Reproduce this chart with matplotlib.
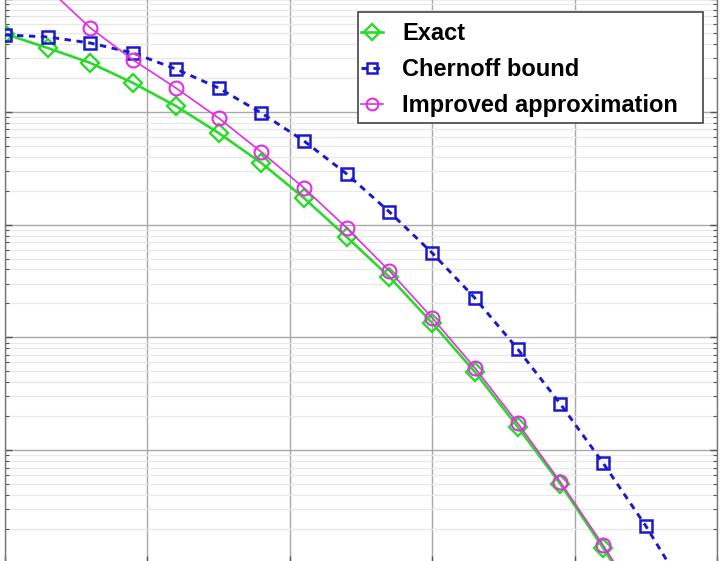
import matplotlib
matplotlib.use("Agg")
import matplotlib.pyplot as plt
import matplotlib.patches as mpatches
from matplotlib.ticker import LogLocator, MultipleLocator, NullFormatter

# ---- data (SNR in dB, probabilities) ----
snr_db = [0, 1.5, 3, 4.5, 6, 7.5, 9, 10.5, 12, 13.5, 15, 16.5, 18, 19.5, 21, 22.5]
snr_db_chernoff = snr_db + [24]

p_exact = [0.490, 0.368, 0.271, 0.180, 0.1125, 0.0649, 0.0352, 0.0172,
           7.76e-3, 3.43e-3, 1.34e-3, 4.93e-4, 1.61e-4, 5.01e-5, 1.36e-5, 3.46e-6]
p_chernoff = [0.480, 0.461, 0.407, 0.332, 0.2395, 0.1626, 0.0976, 0.0551,
              0.0281, 0.01294, 5.60e-3, 2.23e-3, 7.89e-4, 2.57e-4, 7.70e-5,
              2.13e-5, 5.10e-6]
p_improved = [3.34, 1.25, 0.553, 0.288, 0.1626, 0.0881, 0.0440, 0.0211,
              9.33e-3, 3.88e-3, 1.49e-3, 5.36e-4, 1.74e-4, 5.23e-5, 1.44e-5, 3.68e-6]

labels = ["Exact", "Chernoff bound", "Improved approximation"]

# ---- style ----
green = "#2bd92b"
blue = "#1a1acc"
magenta = "#e030e0"
major_grid = "#a8a8a8"
minor_grid = "#e8e8e8"

W, H = 720, 561
fig = plt.figure(figsize=(W / 100, H / 100), dpi=100)
fig.patch.set_facecolor("white")

# axes are cropped: the plot area runs slightly past the top/bottom of the picture
ax = fig.add_axes([5 / W, -2 / H, 712 / W, 564 / H])
ax.set_yscale("log")
ax.set_xlim(0, 25)
ax.set_ylim(1e-5, 1)

ax.plot(snr_db, p_exact, color=green, lw=1.9, marker="D", ms=9.5,
        mfc="none", mec=green, mew=1.7, label=labels[0], zorder=3)
ax.plot(snr_db_chernoff, p_chernoff, color=blue, lw=2.1, ls=(0, (2.2, 1.9)),
        marker="s", ms=8, mfc="none", mec=blue, mew=1.8, label=labels[1], zorder=3)
ax.plot(snr_db, p_improved, color=magenta, lw=1.2, marker="o", ms=10,
        mfc="none", mec=magenta, mew=1.5, label=labels[2], zorder=4)

ax.xaxis.set_major_locator(MultipleLocator(5))
ax.yaxis.set_major_locator(LogLocator(base=10, numticks=10))
ax.yaxis.set_minor_locator(LogLocator(base=10, subs=range(2, 10), numticks=10))
ax.xaxis.set_major_formatter(NullFormatter())
ax.yaxis.set_major_formatter(NullFormatter())
ax.yaxis.set_minor_formatter(NullFormatter())

ax.grid(True, which="major", color=major_grid, lw=1.0, zorder=0)
ax.grid(True, which="minor", axis="y", color=minor_grid, lw=0.9, zorder=0)
ax.set_axisbelow(True)

ax.tick_params(which="both", direction="in", left=True, right=True,
               bottom=True, top=False, color="#555555")
ax.tick_params(which="major", length=5, width=1)
ax.tick_params(which="minor", length=3, width=0.8)

for side in ("top", "bottom"):
    ax.spines[side].set_visible(False)
for side in ("left", "right"):
    ax.spines[side].set_color("#777777")
    ax.spines[side].set_linewidth(1.0)

# legend box (MATLAB style: wide right margin), drawn separately from the entries
box = mpatches.Rectangle((358 / W, 1 - 123 / H), 345 / W, 111 / H,
                         transform=fig.transFigure, facecolor="white",
                         edgecolor="#444444", linewidth=1.2, zorder=9,
                         clip_on=False)
ax.add_patch(box)

leg = ax.legend(loc="upper left", bbox_to_anchor=(361 / W, 1 - 22 / H),
                bbox_transform=fig.transFigure,
                prop={"family": "Liberation Sans", "weight": "bold", "size": 17},
                handlelength=0.95, handletextpad=0.8, labelspacing=0.55,
                borderpad=0, borderaxespad=0, frameon=False, markerscale=0.85)
leg.set_zorder(10)

fig.savefig("out.png", dpi=100, facecolor="white")
plt.close(fig)
